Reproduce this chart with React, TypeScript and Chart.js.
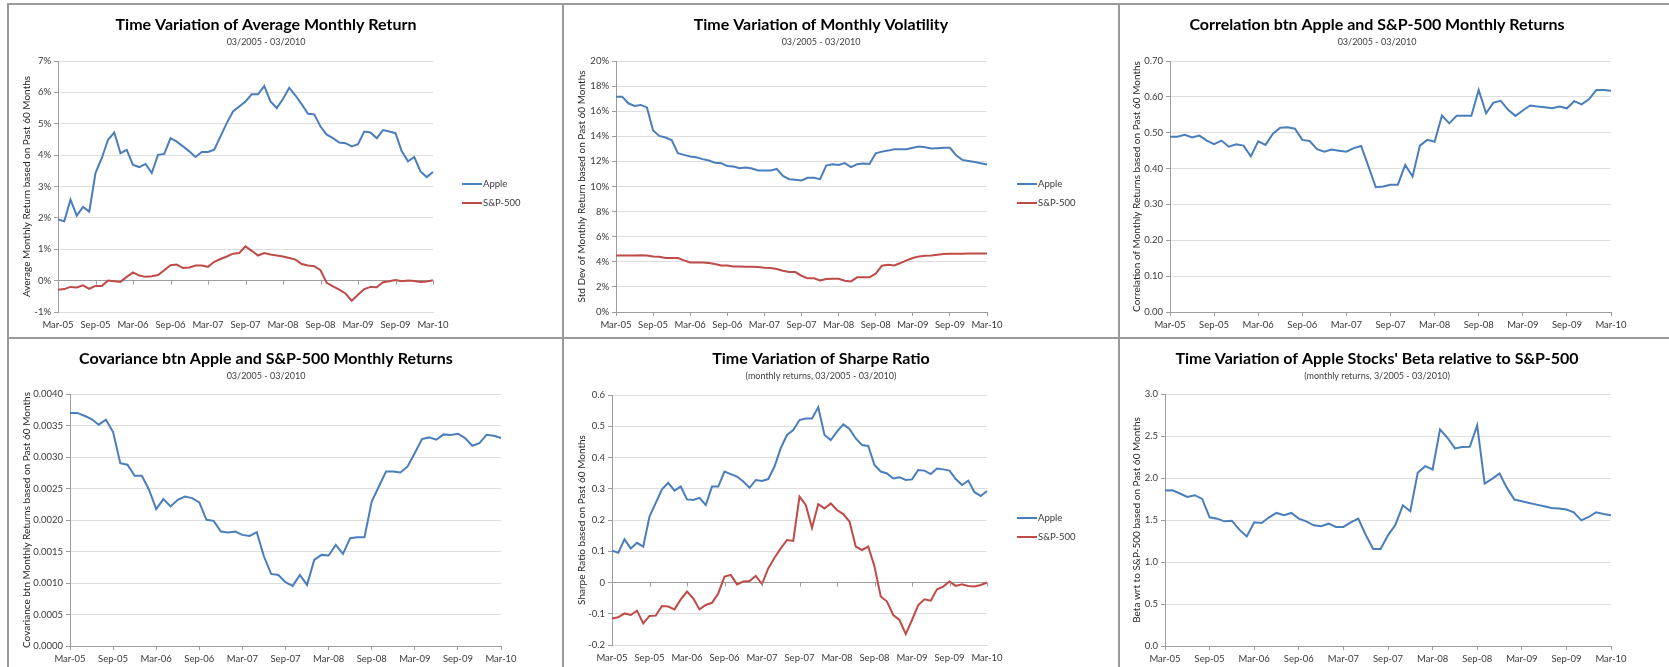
import React, { useEffect, useRef } from "react";
import { Chart, registerables } from "chart.js";
Chart.register(...registerables);

// ---------- categories ----------
const months = [
  "Mar-05","Apr-05","May-05","Jun-05","Jul-05","Aug-05","Sep-05","Oct-05","Nov-05","Dec-05","Jan-06","Feb-06",
  "Mar-06","Apr-06","May-06","Jun-06","Jul-06","Aug-06","Sep-06","Oct-06","Nov-06","Dec-06","Jan-07","Feb-07",
  "Mar-07","Apr-07","May-07","Jun-07","Jul-07","Aug-07","Sep-07","Oct-07","Nov-07","Dec-07","Jan-08","Feb-08",
  "Mar-08","Apr-08","May-08","Jun-08","Jul-08","Aug-08","Sep-08","Oct-08","Nov-08","Dec-08","Jan-09","Feb-09",
  "Mar-09","Apr-09","May-09","Jun-09","Jul-09","Aug-09","Sep-09","Oct-09","Nov-09","Dec-09","Jan-10","Feb-10",
  "Mar-10",
];

// ---------- series ----------
const appleAvgReturn = [1.95, 1.89, 2.58, 2.07, 2.35, 2.2, 3.43, 3.9, 4.49, 4.72, 4.06, 4.17, 3.69, 3.62, 3.72, 3.43, 4.01, 4.04, 4.54, 4.43, 4.28, 4.12, 3.94, 4.1, 4.1, 4.17, 4.6, 5.02, 5.39, 5.55, 5.71, 5.94, 5.94, 6.2, 5.71, 5.5, 5.79, 6.15, 5.9, 5.62, 5.32, 5.3, 4.91, 4.65, 4.54, 4.4, 4.38, 4.28, 4.35, 4.75, 4.72, 4.54, 4.8, 4.75, 4.7, 4.12, 3.8, 3.94, 3.48, 3.3, 3.46];
const spAvgReturn = [-0.29, -0.27, -0.2, -0.22, -0.15, -0.26, -0.17, -0.17, 0.0, -0.02, -0.04, 0.12, 0.26, 0.16, 0.12, 0.14, 0.18, 0.33, 0.49, 0.51, 0.4, 0.42, 0.48, 0.48, 0.44, 0.6, 0.69, 0.77, 0.86, 0.88, 1.09, 0.95, 0.8, 0.88, 0.83, 0.8, 0.77, 0.72, 0.67, 0.53, 0.48, 0.46, 0.33, -0.07, -0.18, -0.29, -0.41, -0.64, -0.45, -0.27, -0.2, -0.21, -0.05, -0.02, 0.02, -0.02, 0.0, -0.01, -0.04, -0.03, 0.01];
const appleVol = [17.16, 17.16, 16.63, 16.42, 16.5, 16.3, 14.46, 14.03, 13.9, 13.7, 12.65, 12.52, 12.39, 12.33, 12.18, 12.07, 11.9, 11.86, 11.64, 11.59, 11.46, 11.51, 11.43, 11.27, 11.27, 11.27, 11.4, 10.85, 10.58, 10.53, 10.48, 10.69, 10.69, 10.58, 11.67, 11.78, 11.72, 11.86, 11.54, 11.78, 11.83, 11.8, 12.65, 12.78, 12.86, 12.97, 12.97, 12.97, 13.08, 13.18, 13.13, 13.02, 13.05, 13.08, 13.08, 12.49, 12.12, 12.04, 11.96, 11.86, 11.75];
const spVol = [4.51, 4.5, 4.5, 4.5, 4.52, 4.5, 4.43, 4.4, 4.3, 4.3, 4.3, 4.11, 3.95, 3.95, 3.95, 3.9, 3.82, 3.71, 3.71, 3.63, 3.63, 3.6, 3.6, 3.58, 3.53, 3.5, 3.42, 3.29, 3.18, 3.18, 2.89, 2.68, 2.68, 2.52, 2.63, 2.65, 2.65, 2.49, 2.44, 2.76, 2.76, 2.76, 3.05, 3.69, 3.77, 3.71, 3.9, 4.11, 4.3, 4.43, 4.48, 4.51, 4.56, 4.62, 4.64, 4.64, 4.65, 4.66, 4.66, 4.66, 4.66];
const correlation = [0.489, 0.489, 0.494, 0.487, 0.492, 0.478, 0.468, 0.478, 0.461, 0.468, 0.464, 0.434, 0.476, 0.466, 0.497, 0.514, 0.515, 0.511, 0.48, 0.477, 0.454, 0.447, 0.453, 0.45, 0.447, 0.457, 0.463, 0.406, 0.348, 0.35, 0.355, 0.355, 0.41, 0.378, 0.464, 0.48, 0.475, 0.548, 0.526, 0.547, 0.547, 0.547, 0.619, 0.554, 0.584, 0.589, 0.564, 0.547, 0.562, 0.576, 0.573, 0.571, 0.568, 0.573, 0.568, 0.588, 0.579, 0.593, 0.619, 0.619, 0.617];
const covariance = [0.0037, 0.0037, 0.003655, 0.003603, 0.003513, 0.003592, 0.003396, 0.002903, 0.002877, 0.002702, 0.002702, 0.00248, 0.002172, 0.002331, 0.002215, 0.00232, 0.002373, 0.002347, 0.002278, 0.002003, 0.001987, 0.001817, 0.001801, 0.001817, 0.001764, 0.001748, 0.001807, 0.00142, 0.001144, 0.001128, 0.001012, 0.000954, 0.001128, 0.00097, 0.001367, 0.001446, 0.001436, 0.001605, 0.001462, 0.001711, 0.001727, 0.001727, 0.002294, 0.002532, 0.002771, 0.002771, 0.002755, 0.00285, 0.003062, 0.003285, 0.003311, 0.003274, 0.003359, 0.003348, 0.003369, 0.003301, 0.003179, 0.003221, 0.003354, 0.003338, 0.003301];
const appleSharpe = [0.102, 0.095, 0.138, 0.109, 0.127, 0.115, 0.211, 0.255, 0.298, 0.319, 0.294, 0.307, 0.266, 0.264, 0.271, 0.248, 0.307, 0.307, 0.355, 0.347, 0.339, 0.323, 0.303, 0.328, 0.325, 0.331, 0.371, 0.43, 0.472, 0.488, 0.52, 0.525, 0.525, 0.561, 0.472, 0.456, 0.483, 0.506, 0.491, 0.461, 0.44, 0.437, 0.376, 0.355, 0.349, 0.333, 0.337, 0.328, 0.33, 0.36, 0.358, 0.347, 0.365, 0.362, 0.358, 0.331, 0.312, 0.326, 0.289, 0.277, 0.293];
const spSharpe = [-0.115, -0.111, -0.099, -0.104, -0.09, -0.131, -0.107, -0.106, -0.075, -0.077, -0.086, -0.054, -0.029, -0.051, -0.086, -0.072, -0.065, -0.035, 0.019, 0.024, -0.006, 0.003, 0.005, 0.021, -0.005, 0.045, 0.079, 0.109, 0.136, 0.133, 0.275, 0.248, 0.175, 0.251, 0.237, 0.253, 0.232, 0.219, 0.195, 0.115, 0.104, 0.115, 0.051, -0.045, -0.061, -0.104, -0.12, -0.165, -0.12, -0.072, -0.054, -0.058, -0.022, -0.013, 0.003, -0.011, -0.006, -0.011, -0.013, -0.008, 0.0];
const appleBeta = [1.85, 1.854, 1.815, 1.775, 1.795, 1.751, 1.532, 1.516, 1.484, 1.492, 1.385, 1.305, 1.472, 1.464, 1.532, 1.584, 1.556, 1.584, 1.516, 1.484, 1.437, 1.425, 1.456, 1.417, 1.417, 1.472, 1.516, 1.325, 1.154, 1.154, 1.317, 1.444, 1.675, 1.604, 2.061, 2.141, 2.101, 2.579, 2.479, 2.352, 2.368, 2.372, 2.626, 1.934, 1.99, 2.053, 1.882, 1.743, 1.723, 1.703, 1.683, 1.663, 1.643, 1.636, 1.624, 1.592, 1.496, 1.536, 1.592, 1.572, 1.556];

// ---------- styling ----------
const FONT = "Lato, 'Open Sans', sans-serif";
const APPLE = "#4A7EBB";
const SP = "#BE4B48";
const AXIS = "#9d9d9d";
const GRID = "#dedede";
const TICK_TEXT = "#3a3a3a";

type Series = { label: string; data: number[]; color: string };
type PanelProps = {
  x: number; y: number; w: number; h: number;
  title: string; subtitle: string; yTitle: string;
  series: Series[];
  yMin: number; yMax: number; yStep: number;
  fmt: (v: number) => string;
  area: { l: number; t: number; r: number; b: number };
  yTitleX: number;
  legend: boolean;
  zeroAxis: boolean;
};

function Panel(p: PanelProps) {
  const ref = useRef<HTMLCanvasElement | null>(null);
  useEffect(() => {
    if (!ref.current) return;
    const padLeft = 3;
    const yTitleSize = 10;
    const titleLH = yTitleSize * 1.2;
    const decor = {
      id: "decor",
      afterDraw(chart: any) {
        const ctx = chart.ctx;
        ctx.save();
        ctx.textAlign = "center";
        ctx.textBaseline = "middle";
        ctx.fillStyle = "#000";
        ctx.font = `bold 16px ${FONT}`;
        ctx.fillText(p.title, 256, 19);
        ctx.fillStyle = "#404040";
        ctx.font = `9px ${FONT}`;
        ctx.fillText(p.subtitle, 256, 36);
        if (p.legend) {
          p.series.forEach((s, i) => {
            const yy = 178 + i * 19;
            ctx.strokeStyle = s.color;
            ctx.lineWidth = 2;
            ctx.beginPath();
            ctx.moveTo(452, yy);
            ctx.lineTo(472, yy);
            ctx.stroke();
            ctx.fillStyle = TICK_TEXT;
            ctx.textAlign = "left";
            ctx.font = `9.5px ${FONT}`;
            ctx.fillText(s.label, 473, yy);
          });
        }
        if (p.zeroAxis) {
          const xs = chart.scales.x;
          const y0 = chart.scales.y.getPixelForValue(0);
          ctx.strokeStyle = AXIS;
          ctx.lineWidth = 1;
          for (let i = 0; i < months.length; i += 6) {
            const px = Math.round(xs.getPixelForValue(i)) + 0.5;
            ctx.beginPath();
            ctx.moveTo(px, y0);
            ctx.lineTo(px, y0 + 4);
            ctx.stroke();
          }
        }
        ctx.restore();
      },
    };
    const chart = new Chart(ref.current, {
      type: "line",
      data: {
        labels: months,
        datasets: p.series.map((s) => ({
          label: s.label,
          data: s.data,
          borderColor: s.color,
          backgroundColor: s.color,
          borderWidth: 2,
          pointRadius: 0,
          tension: 0,
        })),
      },
      options: {
        responsive: false,
        animation: false,
        layout: { padding: { left: padLeft, top: p.area.t, right: p.w - p.area.r, bottom: 0 } },
        plugins: { legend: { display: false }, title: { display: false }, tooltip: { enabled: false } },
        scales: {
          x: {
            type: "category",
            offset: false,
            afterFit: (s: any) => { s.height = p.h - p.area.b; },
            grid: {
              display: true,
              drawOnChartArea: false,
              drawTicks: true,
              tickLength: 4,
              tickColor: p.zeroAxis ? "rgba(0,0,0,0)" : AXIS,
            },
            border: { display: true, color: p.zeroAxis ? GRID : AXIS, width: 1 },
            ticks: {
              autoSkip: false,
              maxRotation: 0,
              minRotation: 0,
              padding: 3,
              color: TICK_TEXT,
              font: { family: FONT, size: 9.5 },
              callback: (_v: any, i: number) => (i % 6 === 0 ? months[i] : null),
            },
          },
          y: {
            min: p.yMin,
            max: p.yMax,
            afterFit: (s: any) => { s.width = p.area.l - padLeft; },
            grid: {
              color: (c: any) => (p.zeroAxis && Math.abs(c.tick?.value ?? 1) < 1e-9 ? AXIS : GRID),
              tickColor: AXIS,
              tickLength: 4,
              drawTicks: true,
            },
            border: { display: true, color: AXIS, width: 1 },
            ticks: {
              stepSize: p.yStep,
              padding: 3,
              color: TICK_TEXT,
              font: { family: FONT, size: 9.5 },
              callback: (v: any) => p.fmt(Number(v)),
            },
            title: {
              display: true,
              text: p.yTitle,
              color: "#262626",
              font: { family: FONT, size: yTitleSize },
              padding: { top: p.yTitleX - padLeft - titleLH / 2, bottom: 0 },
            },
          },
        },
      },
      plugins: [decor],
    } as any);
    return () => chart.destroy();
  }, []);
  return (
    <canvas
      ref={ref}
      width={p.w}
      height={p.h}
      style={{ position: "absolute", left: p.x, top: p.y, width: p.w, height: p.h }}
    />
  );
}

const pct = (v: number) => `${Math.round(v)}%`;

const panels: PanelProps[] = [
  {
    x: 10, y: 6, w: 552, h: 331,
    title: "Time Variation of Average Monthly Return",
    subtitle: "03/2005 - 03/2010",
    yTitle: "Average Monthly Return based on Past 60 Months",
    series: [{ label: "Apple", data: appleAvgReturn, color: APPLE }, { label: "S&P-500", data: spAvgReturn, color: SP }],
    yMin: -1, yMax: 7, yStep: 1, fmt: pct,
    area: { l: 48, t: 55, r: 423, b: 306 }, yTitleX: 17, legend: true, zeroAxis: true,
  },
  {
    x: 565, y: 6, w: 553, h: 331,
    title: "Time Variation of Monthly Volatility",
    subtitle: "03/2005 - 03/2010",
    yTitle: "Std Dev of Monthly Return based on Past 60 Months",
    series: [{ label: "Apple", data: appleVol, color: APPLE }, { label: "S&P-500", data: spVol, color: SP }],
    yMin: 0, yMax: 20, yStep: 2, fmt: pct,
    area: { l: 51, t: 55, r: 422, b: 306 }, yTitleX: 17, legend: true, zeroAxis: false,
  },
  {
    x: 1121, y: 6, w: 548, h: 331,
    title: "Correlation btn Apple and S&P-500 Monthly Returns",
    subtitle: "03/2005 - 03/2010",
    yTitle: "Correlation of Monthly Returns based on Past 60 Months",
    series: [{ label: "Correlation", data: correlation, color: APPLE }],
    yMin: 0, yMax: 0.7, yStep: 0.1, fmt: (v) => v.toFixed(2),
    area: { l: 49, t: 55, r: 490, b: 306 }, yTitleX: 16, legend: false, zeroAxis: false,
  },
  {
    x: 10, y: 340, w: 552, h: 327,
    title: "Covariance btn Apple and S&P-500 Monthly Returns",
    subtitle: "03/2005 - 03/2010",
    yTitle: "Covariance btn Monthly Returns based on Past 60 Months",
    series: [{ label: "Covariance", data: covariance, color: APPLE }],
    yMin: 0, yMax: 0.004, yStep: 0.0005, fmt: (v) => v.toFixed(4),
    area: { l: 60, t: 54, r: 491, b: 306 }, yTitleX: 17, legend: false, zeroAxis: false,
  },
  {
    x: 565, y: 340, w: 553, h: 327,
    title: "Time Variation of Sharpe Ratio",
    subtitle: "(monthly returns, 03/2005 - 03/2010)",
    yTitle: "Sharpe Ratio based on Past 60 Months",
    series: [{ label: "Apple", data: appleSharpe, color: APPLE }, { label: "S&P-500", data: spSharpe, color: SP }],
    yMin: -0.2, yMax: 0.6, yStep: 0.1, fmt: (v) => String(Number(v.toFixed(1))),
    area: { l: 47, t: 55, r: 422, b: 305 }, yTitleX: 17, legend: true, zeroAxis: true,
  },
  {
    x: 1121, y: 340, w: 548, h: 327,
    title: "Time Variation of Apple Stocks' Beta relative to S&P-500",
    subtitle: "(monthly returns, 3/2005 - 03/2010)",
    yTitle: "Beta wrt to S&P-500 based on Past 60 Months",
    series: [{ label: "Beta", data: appleBeta, color: APPLE }],
    yMin: 0, yMax: 3, yStep: 0.5, fmt: (v) => v.toFixed(1),
    area: { l: 44, t: 54, r: 490, b: 306 }, yTitleX: 16, legend: false, zeroAxis: false,
  },
];

const BORDER = "#9a9a9a";
const lines = [
  { left: 7, top: 3, width: 1662, height: 2 },
  { left: 7, top: 337, width: 1662, height: 2 },
  { left: 7, top: 3, width: 2, height: 664 },
  { left: 562, top: 3, width: 2, height: 664 },
  { left: 1118, top: 3, width: 2, height: 664 },
];

export default function App() {
  return (
    <div style={{ position: "fixed", left: 0, top: 0, width: 1669, height: 667, overflow: "hidden", background: "#fff" }}>
      {panels.map((p, i) => <Panel key={i} {...p} />)}
      {lines.map((l, i) => (
        <div key={"l" + i} style={{ position: "absolute", background: BORDER, ...l }} />
      ))}
    </div>
  );
}
